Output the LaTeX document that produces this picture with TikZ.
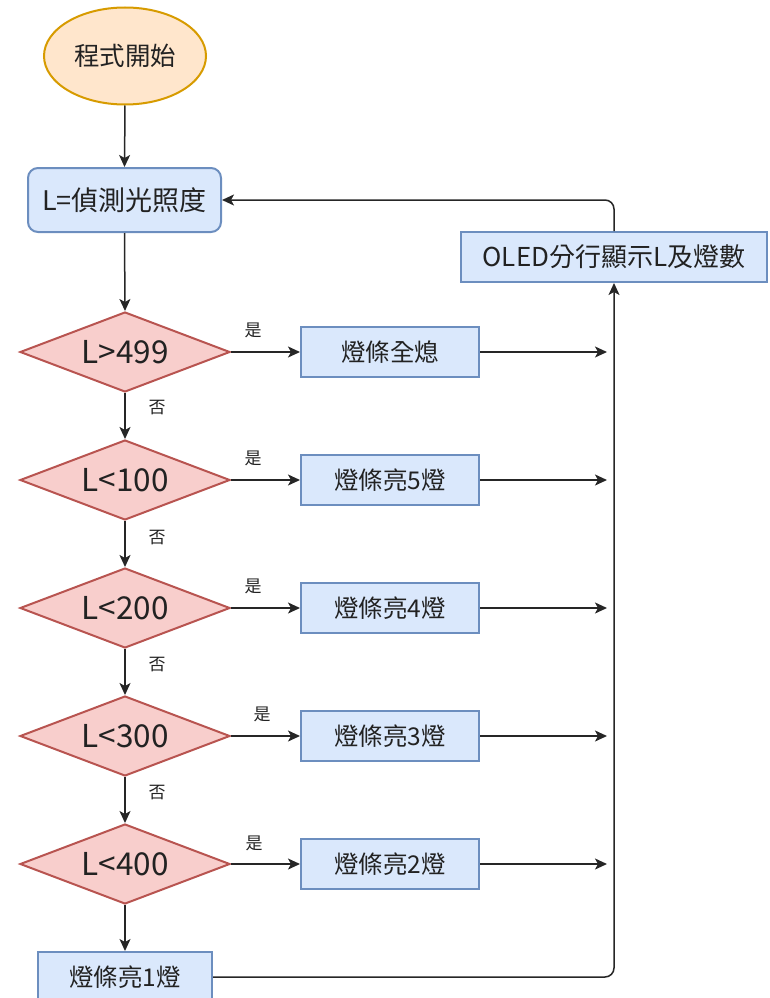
\documentclass[tikz,border=0pt]{standalone}
\usepackage{fontspec}
\setmainfont{Noto Sans CJK TC}
\usetikzlibrary{shapes.geometric,arrows.meta}
\definecolor{startfill}{HTML}{FFE6CC}
\definecolor{startdraw}{HTML}{D79B00}
\definecolor{boxfill}{HTML}{DAE8FC}
\definecolor{boxdraw}{HTML}{6C8EBF}
\definecolor{decfill}{HTML}{F8CECC}
\definecolor{decdraw}{HTML}{B85450}
\definecolor{txt}{HTML}{222222}
\newcommand{\zbox}[1]{\smash{\makebox[0pt]{\raisebox{-0.37em}{#1}}}}
\tikzset{
  every node/.style={text=txt, inner sep=0pt},
  startnode/.style={ellipse, draw=startdraw, fill=startfill, line width=2pt, minimum width=162pt, minimum height=97pt, font=\fontsize{25.5}{28}\selectfont},
  procbox/.style={rectangle, draw=boxdraw, fill=boxfill, line width=2pt, minimum height=50pt, font=\fontsize{24.5}{28}\selectfont},
  decnode/.style={diamond, draw=decdraw, fill=decfill, line width=2pt, minimum width=210pt, minimum height=80pt, font=\fontsize{31.5}{34}\selectfont},
  lbl/.style={font=\fontsize{17}{20}\selectfont},
  flow/.style={draw=black!85, line width=1.5pt, -{Stealth[length=12pt,width=11pt,inset=3pt]}},
}
\begin{document}
\begin{tikzpicture}[x=1pt,y=-1pt]
\useasboundingbox (0,0) rectangle (769,998);
\clip (0,0) rectangle (769,998);
\node[startnode] (start) at (125,56) {程式開始};
\node[procbox, rounded corners=10pt, minimum width=193pt, minimum height=64pt, font=\fontsize{27}{30}\selectfont] (read) at (124.5,200) {L=偵測光照度};
\node[procbox, minimum width=306pt, font=\fontsize{26}{30}\selectfont] (oled) at (614,257) {OLED分行顯示L及燈數};
\node[decnode] (d1) at (125,352) {\zbox{L>499}};
\node[decnode] (d2) at (125,480) {\zbox{L<100}};
\node[decnode] (d3) at (125,608) {\zbox{L<200}};
\node[decnode] (d4) at (125,736) {\zbox{L<300}};
\node[decnode] (d5) at (125,864) {\zbox{L<400}};
\node[procbox, minimum width=178pt] (b1) at (390,352) {燈條全熄};
\node[procbox, minimum width=178pt] (b2) at (390,480) {燈條亮5燈};
\node[procbox, minimum width=178pt] (b3) at (390,608) {燈條亮4燈};
\node[procbox, minimum width=178pt] (b4) at (390,736) {燈條亮3燈};
\node[procbox, minimum width=178pt] (b5) at (390,864) {燈條亮2燈};
\node[procbox, minimum width=174pt] (b6) at (125,977) {燈條亮1燈};
\foreach \i in {1,...,5} {
  \coordinate (e\i) at (607,0 |- b\i.east);
  \draw[flow] (b\i.east) -- (e\i);
  \draw[flow] (d\i.east) -- (b\i.west);
}
\draw[flow] (start.south) -- (read.north);
\draw[flow] (read.south) -- (d1.north);
\draw[flow] (d1.south) -- (d2.north);
\draw[flow] (d2.south) -- (d3.north);
\draw[flow] (d3.south) -- (d4.north);
\draw[flow] (d4.south) -- (d5.north);
\draw[flow] (d5.south) -- (b6.north);
\coordinate (c6) at (oled.south |- b6.east);
\draw[flow, rounded corners=9pt] (b6.east) -- (c6) -- (oled.south);
\draw[flow, rounded corners=9pt] (oled.north) |- (read.east);
\node[lbl] (y1) at (253,330) {是};
\node[lbl] (y2) at (253,458) {是};
\node[lbl] (y3) at (253,586) {是};
\node[lbl] (y4) at (262,714) {是};
\node[lbl] (y5) at (254,843) {是};
\node[lbl] (n1) at (157,408) {否};
\node[lbl] (n2) at (157,538) {否};
\node[lbl] (n3) at (157,665) {否};
\node[lbl] (n4) at (157,793) {否};
\end{tikzpicture}
\end{document}
